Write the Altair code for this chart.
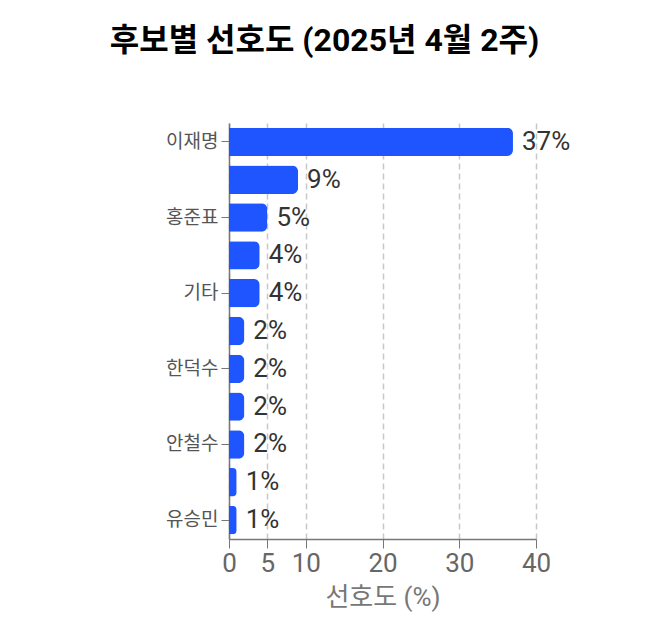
import altair as alt
import pandas as pd

candidates = ["이재명", "김문수", "홍준표", "한동훈", "기타", "오세훈", "한덕수", "이준석", "안철수", "우원식", "유승민"]
values = [37, 9, 5, 4, 4, 2, 2, 2, 2, 1, 1]
shown_labels = ["이재명", "홍준표", "기타", "한덕수", "안철수", "유승민"]
x_ticks = [0, 5, 10, 20, 30, 40]

df = pd.DataFrame({"후보": candidates, "선호도": values})
df["라벨"] = df["선호도"].astype(str) + "%"

FONT = "Roboto, Noto Sans CJK KR, sans-serif"

y_enc = alt.Y("후보:N", sort=candidates, title=None,
              scale=alt.Scale(paddingInner=0.25, paddingOuter=0.125),
              axis=alt.Axis(values=shown_labels, labelFontSize=19, labelColor="#555",
                            labelFont=FONT, tickColor="#777", tickSize=8, labelPadding=3,
                            domainColor="#777", domainWidth=1.5, grid=False))
x_enc = alt.X("선호도:Q", title="선호도 (%)",
              scale=alt.Scale(domain=[0, 40], nice=False),
              axis=alt.Axis(values=x_ticks, labelFontSize=26, labelColor="#666",
                            labelFont=FONT, labelFlush=False, labelPadding=2,
                            titleFont=FONT, titleFontSize=26,
                            titleColor="#777", titleFontWeight="normal", titlePadding=8,
                            tickColor="#777", tickSize=9, domainColor="#777", domainWidth=1.5,
                            grid=True, gridColor="#c8c8c8", gridDash=[6, 4], gridWidth=1.5))

bars = alt.Chart(df).mark_bar(color="#1f55ff", cornerRadiusEnd=6).encode(x=x_enc, y=y_enc)
text = alt.Chart(df).mark_text(align="left", baseline="middle", dx=9, fontSize=26,
                               color="#333", font=FONT).encode(
    x="선호도:Q", y=alt.Y("후보:N", sort=candidates), text="라벨:N")

chart = (bars + text).properties(
    width=307, height=416,
    padding={"left": 221, "top": 115, "right": 100, "bottom": 90},
    autosize=alt.AutoSizeParams(type="none"),
    title=alt.TitleParams("후보별 선호도 (2025년 4월 2주)", font=FONT, fontSize=32,
                          fontWeight="bold", color="#000", anchor="middle",
                          dx=-58, offset=65),
).configure(background="white").configure_view(stroke=None, strokeWidth=0)

chart.save("out.html", embed_options={"renderer": "svg", "actions": False})
